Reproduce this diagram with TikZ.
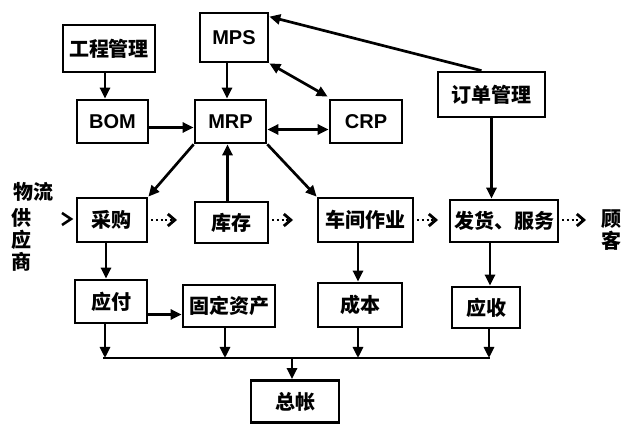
\documentclass[tikz,border=0pt]{standalone}
\usepackage{fontspec}
\setmainfont{Noto Sans CJK SC}
\newfontfamily\lat{Liberation Sans}
\usetikzlibrary{arrows.meta}
\tikzset{
  box/.style={draw, line width=2.7pt, inner sep=0pt, font=\fontsize{20}{20}\selectfont\bfseries},
  latbox/.style={box, font=\fontsize{20}{20}\selectfont\lat\bfseries},
  arr/.style={line width=2.7pt, -{Triangle[length=11pt,width=10pt]}},
  darr/.style={line width=2.7pt, {Triangle[length=11pt,width=10pt]}-{Triangle[length=11pt,width=10pt]}},
  dotarr/.style={line width=2.6pt, dash pattern=on 2pt off 2.6pt, -{Straight Barb[length=7pt,width=12pt,line width=2.8pt]}},
  plain/.style={line width=2.7pt},
  lbl/.style={font=\fontsize{20}{22}\selectfont\bfseries, inner sep=0pt, align=center}
}
\begin{document}
\begin{tikzpicture}[x=1pt,y=-1pt]
\useasboundingbox (0,0) rectangle (625,425);
% boxes
\node[box, minimum width=92pt, minimum height=47pt] (gc) at (109,48.5) {工程管理};
\node[latbox, minimum width=68pt, minimum height=49pt] (mps) at (234,37.5) {MPS};
\node[latbox, minimum width=71pt, minimum height=43pt] (bom) at (112.5,121.5) {BOM};
\node[latbox, minimum width=71pt, minimum height=43pt] (mrp) at (230.5,121.5) {MRP};
\node[latbox, minimum width=72pt, minimum height=43pt] (crp) at (366,121.5) {CRP};
\node[box, minimum width=107pt, minimum height=45pt] (dd) at (491.5,94.5) {订单管理};
\node[box, minimum width=70pt, minimum height=44pt] (cg) at (112,220) {采购};
\node[box, minimum width=73pt, minimum height=41pt] (kc) at (231.5,222.5) {库存};
\node[box, minimum width=95pt, minimum height=44pt] (cj) at (365.5,220) {车间作业};
\node[box, minimum width=108pt, minimum height=42pt] (fh) at (504,221) {发货、服务};
\node[box, minimum width=72pt, minimum height=43pt] (yf) at (111,301.5) {应付};
\node[box, minimum width=92pt, minimum height=42pt] (gd) at (229,306) {固定资产};
\node[box, minimum width=84pt, minimum height=44pt] (cb) at (360,305) {成本};
\node[box, minimum width=68pt, minimum height=41pt] (ys) at (486,307.5) {应收};
\node[box, minimum width=88pt, minimum height=42pt] (zz) at (295,401.5) {总帐};
% labels
\node[lbl] (wl) at (33,192) {物流};
\node[lbl] (gys) at (22,240) {供\\应\\商};
\node[lbl] (gk) at (611,230) {顾\\客};
% top connectors
\draw[arr] ([xshift=-4pt]gc.south) -- ([xshift=-4pt]gc.south |- bom.north);
\draw[arr] ([xshift=-7pt]mps.south) -- ([xshift=-7pt]mps.south |- mrp.north);
\draw[arr] ([yshift=-6pt]bom.east) -- ([yshift=-6pt]mrp.west);
\draw[darr] ([yshift=-8pt]mrp.east) -- ([yshift=-8pt]crp.west);
\draw[darr] (mps.south east) -- ([xshift=-1pt,yshift=2pt]crp.north west);
\draw[arr] ([xshift=-10pt]dd.north) -- ([yshift=-5pt]mps.north east);
\draw[arr] (dd.south) -- (dd.south |- fh.north);
\draw[arr] (mrp.south west) -- (cg.north east);
\draw[arr] ([xshift=-4pt]kc.north) -- ([xshift=-4pt]kc.north |- mrp.south);
\draw[arr] (mrp.south east) -- (cj.north west);
% vertical connectors
\draw[arr] ([xshift=-6pt]cg.south) -- ([xshift=-6pt]cg.south |- yf.north);
\draw[arr] ([yshift=-13pt]yf.east) -- ([yshift=-13pt]yf.east -| gd.west);
\draw[arr] ([xshift=-7.5pt]cj.south) -- ([xshift=-7.5pt]cj.south |- cb.north);
\draw[arr] ([xshift=-14pt]fh.south) -- ([xshift=-14pt]fh.south |- ys.north);
% bus
\coordinate (busL) at (103,358);
\coordinate (busR) at (490,358);
\draw[plain] (busL) -- (busR);
\draw[arr] ([xshift=-6pt]yf.south) -- ([xshift=-6pt]yf.south |- busL);
\draw[arr] ([xshift=-4pt]gd.south) -- ([xshift=-4pt]gd.south |- busL);
\draw[arr] ([xshift=-2pt]cb.south) -- ([xshift=-2pt]cb.south |- busL);
\draw[arr] ([xshift=3pt]ys.south) -- ([xshift=3pt]ys.south |- busL);
\coordinate (busZ) at (292,358);
\draw[arr] (busZ) -- (busZ |- zz.north);
% dotted flow arrows
\coordinate (d1) at (177,220);
\coordinate (d2) at (293,220);
\coordinate (d3) at (438,220);
\coordinate (d4) at (586,220);
\draw[dotarr] ([xshift=3pt]cg.east |- d1) -- (d1);
\draw[dotarr] ([xshift=3pt]kc.east |- d2) -- (d2);
\draw[dotarr] ([xshift=3pt]cj.east |- d3) -- (d3);
\draw[dotarr] ([xshift=3pt]fh.east |- d4) -- (d4);
% supplier chevron
\draw[line width=2.6pt] (62,213) -- (71,219) -- (62,225);
\end{tikzpicture}
\end{document}
